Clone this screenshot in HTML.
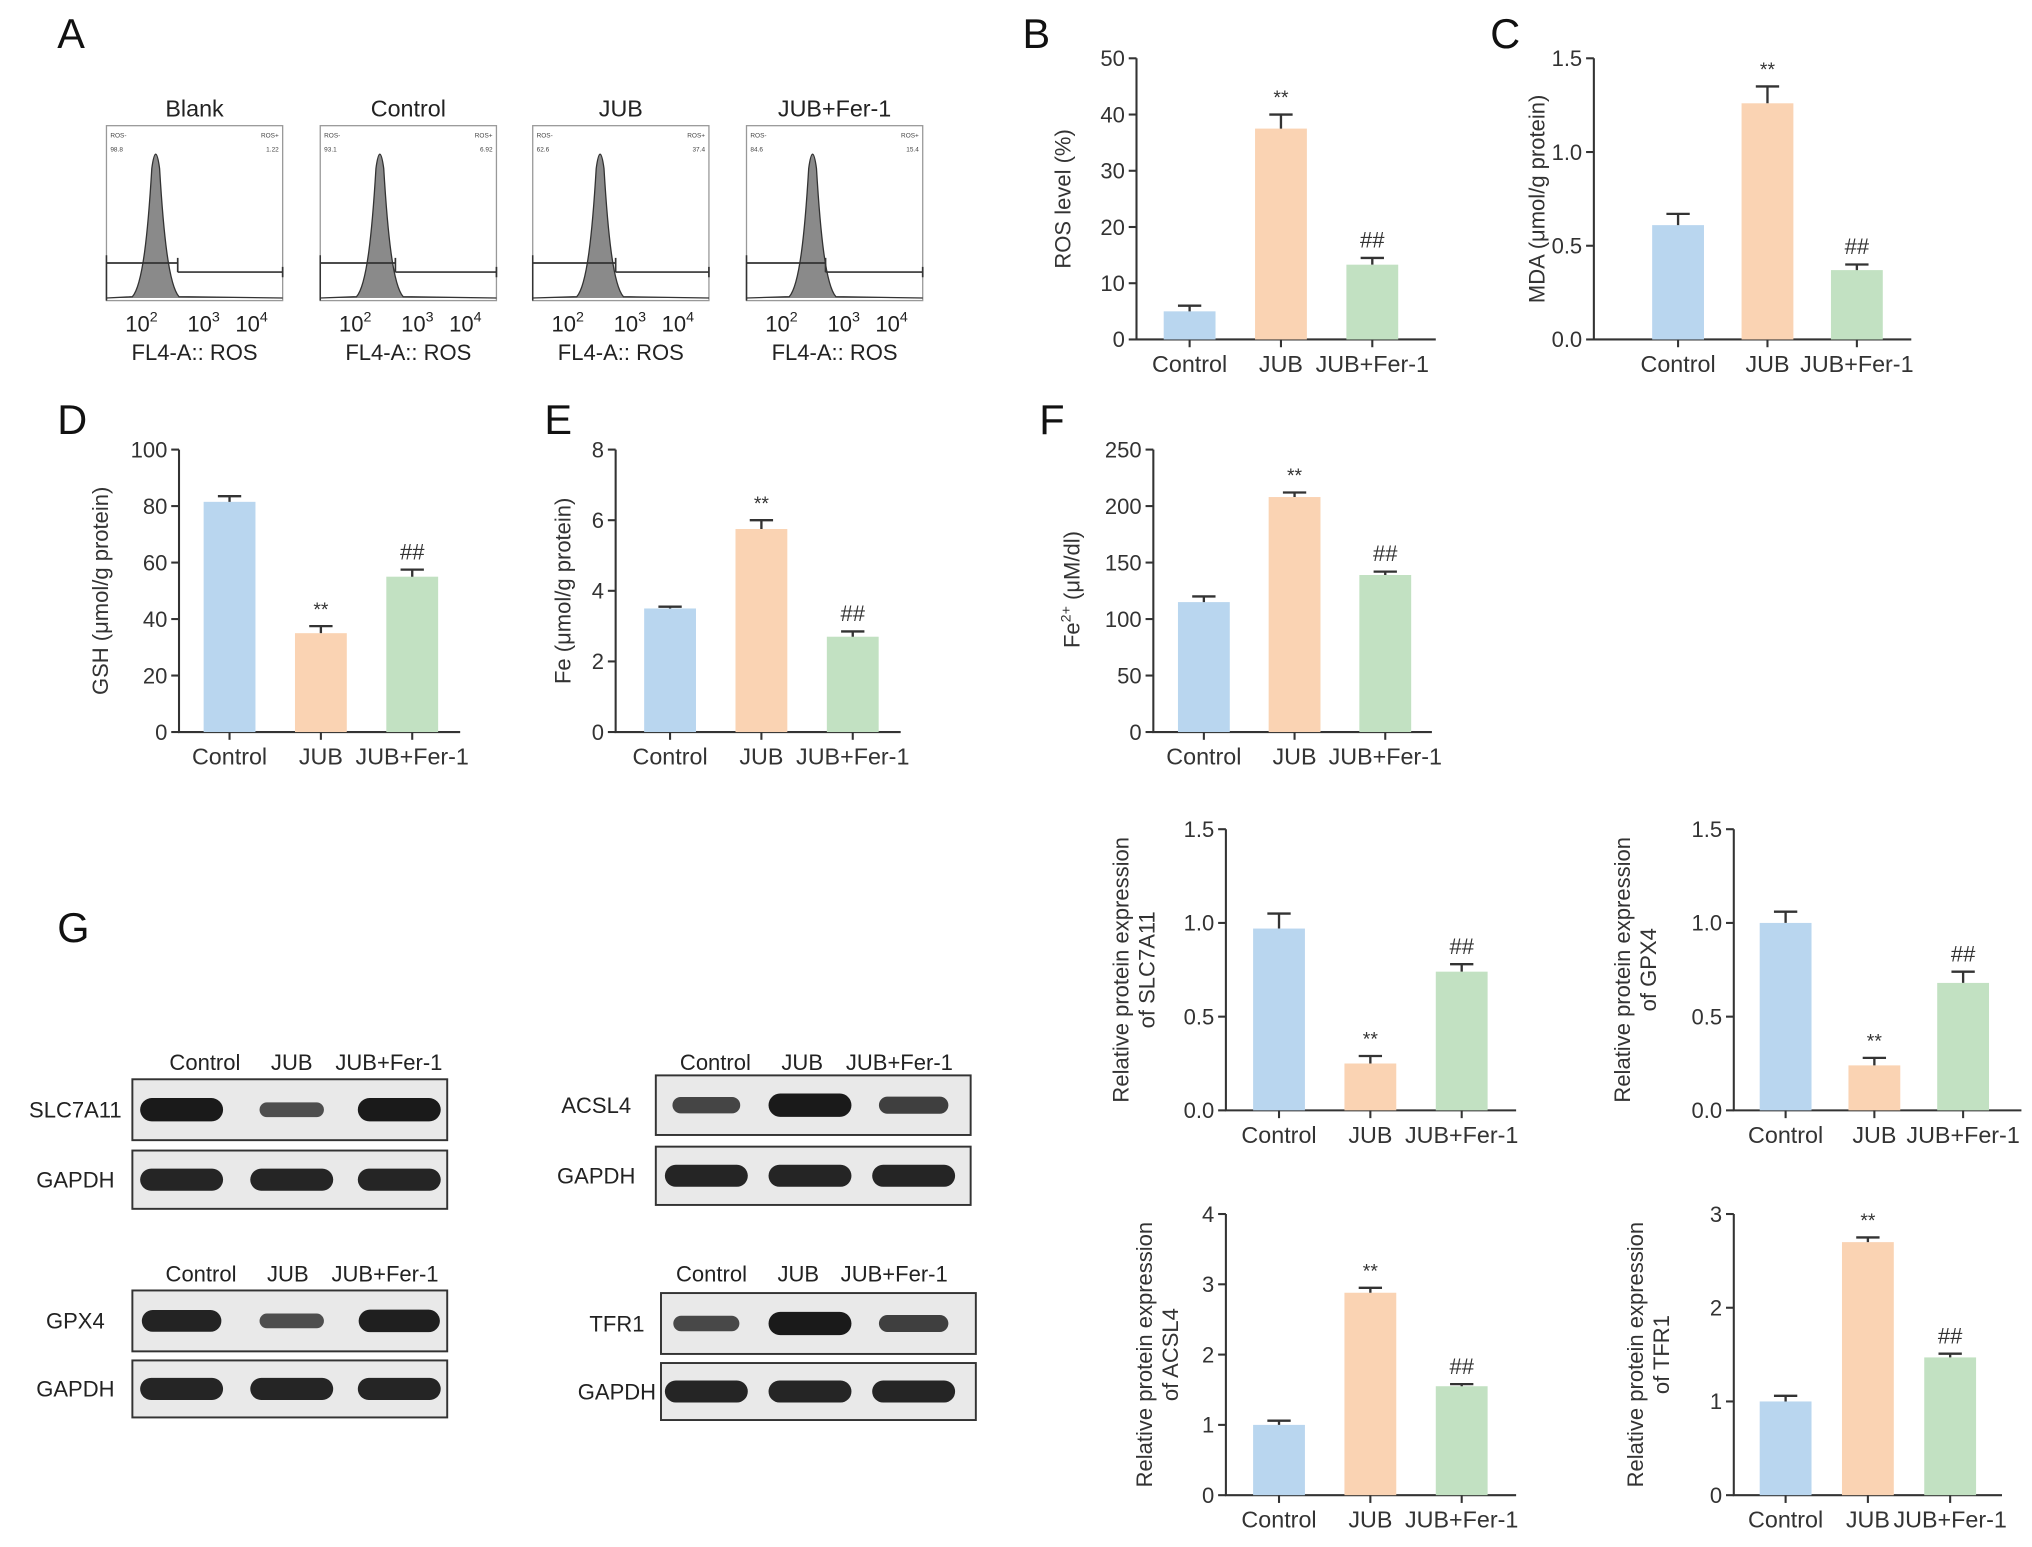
<!DOCTYPE html>
<html><head><meta charset="utf-8"><style>
html,body{margin:0;padding:0;background:#fff;}
svg{display:block;font-family:"Liberation Sans",Arial,sans-serif;}
</style></head><body>
<svg id="fig" width="2032" height="1547" viewBox="0 0 1568 1194" xmlns="http://www.w3.org/2000/svg">
<g id="root"></g>
</svg>
<script>
// ---- data ----
const categories = ["Control","JUB","JUB+Fer-1"];
const rosValues = [5, 37.5, 13.3];
const rosErrors = [6, 40, 14.5];
const mdaValues = [0.61, 1.26, 0.37];
const mdaErrors = [0.67, 1.35, 0.40];
const gshValues = [81.5, 35, 55];
const gshErrors = [83.5, 37.5, 57.5];
const feValues = [3.5, 5.75, 2.7];
const feErrors = [3.55, 6.0, 2.85];
const fe2Values = [115, 208, 139];
const fe2Errors = [120, 212, 142];
const slcValues = [0.97, 0.25, 0.74];
const slcErrors = [1.05, 0.29, 0.78];
const gpxValues = [1.0, 0.24, 0.68];
const gpxErrors = [1.06, 0.28, 0.74];
const acslValues = [1.0, 2.88, 1.55];
const acslErrors = [1.06, 2.95, 1.58];
const tfrValues = [1.0, 2.7, 1.47];
const tfrErrors = [1.06, 2.75, 1.51];
const ticks15 = [0, 0.5, 1.0, 1.5];
const tickLabels15 = ["0.0","0.5","1.0","1.5"];
const ticks50 = [0,10,20,30,40,50];
const ticks100 = [0,20,40,60,80,100];
const ticks8 = [0,2,4,6,8];
const ticks250 = [0,50,100,150,200,250];
const ticks4 = [0,1,2,3,4];
const ticks3 = [0,1,2,3];
const marks = ["", "**", "##"];
const histTitles = ["Blank","Control","JUB","JUB+Fer-1"];
const histNeg = ["98.8","93.1","62.6","84.6"];
const histPos = ["1.22","6.92","37.4","15.4"];
const histPeaks = [120, 293, 463, 627];
const histGates = [137, 305, 475, 637];

const NS = "http://www.w3.org/2000/svg";
const root = document.getElementById('root');
const colors = ["#b9d6ef","#fad3b3","#c2e1c2"];
function el(tag, attrs, parent, text){
  const e = document.createElementNS(NS, tag);
  for (const k in attrs) e.setAttribute(k, attrs[k]);
  if (text !== undefined) e.textContent = text;
  (parent||root).appendChild(e);
  return e;
}

function barChart(name, cfg){
  const g = el('g', {});
  
  
  const yScale = v => cfg.yBot - (v - cfg.min)/(cfg.max - cfg.min)*(cfg.yBot - cfg.yTop);
  const xScale = i => cfg.ax + cfg.off + i*cfg.step;
  const axis = el('path', {d:`M${cfg.ax} ${cfg.yTop}V${cfg.yBot}H${cfg.axEnd}`, stroke:'#333', 'stroke-width':1.6, fill:'none'}, g);
  
  
  cfg.ticks.forEach((t, i) => {
    const y = yScale(t);
    el('line', {x1:cfg.ax-6, x2:cfg.ax, y1:y, y2:y, stroke:'#333','stroke-width':1.6}, g);
    const tl = el('text', {x:cfg.ax-9, y:y+6, 'text-anchor':'end', 'font-size':17, fill:'#333'}, g, cfg.tickLabels ? cfg.tickLabels[i] : String(t));
    
    
  });
  cfg.values.forEach((v, i) => {
    const cx = xScale(i);
    const bar = el('rect', {x:cx-20, y:yScale(v), width:40, height:cfg.yBot - yScale(v), fill:colors[i]}, g);
    
    
    const ey = yScale(cfg.errors[i]);
    el('path', {d:`M${cx} ${yScale(v)}V${ey}M${cx-9} ${ey}H${cx+9}`, stroke:'#333','stroke-width':1.8, fill:'none'}, g);
    el('line', {x1:cx, x2:cx, y1:cfg.yBot, y2:cfg.yBot+6, stroke:'#333','stroke-width':1.6}, g);
    const cl = el('text', {x:cx, y:cfg.yBot+25, 'text-anchor':'middle','font-size':18, fill:'#333'}, g, categories[i]);
    
    
    if (marks[i]) {
      const m = el('text', {x:cx, y:ey-8, 'text-anchor':'middle','font-size':marks[i]=="**"?15:17, fill:'#333'}, g, marks[i]);
      
      
    }
  });
  const cy = cfg.labelY || (cfg.yTop + cfg.yBot)/2;
  cfg.label.forEach((ln, k) => {
    const t = el('text', {x:cfg.lx + k*20, y:cy, 'text-anchor':'middle','font-size':17, fill:'#333', transform:`rotate(-90 ${cfg.lx + k*20} ${cy})`}, g);
    if (typeof ln === 'string') t.textContent = ln;
    else { ln.forEach(p => { el('tspan', p.sup ? {'font-size':11, dy:-7} : (p.down ? {dy:7} : {}), t, p.t); }); }
    
    
  });
}

function panelLetter(ch, x, y){
  const t = el('text', {x:x, y:y, 'font-size':32, fill:'#111'}, root, ch);
  
  
}
panelLetter('A', 44, 37); panelLetter('B', 789, 37); panelLetter('C', 1150, 37);
panelLetter('D', 44, 335); panelLetter('E', 420, 335); panelLetter('F', 802, 335);
panelLetter('G', 44, 727);

// ---- A: flow histograms ----
const histX = [82, 247, 411, 576];
histX.forEach((bx, i) => {
  const g = el('g', {});
  
  
  el('text', {x:bx+68, y:90, 'text-anchor':'middle','font-size':18, fill:'#222'}, g, histTitles[i]);
  el('rect', {x:bx, y:97, width:136, height:135, fill:'none', stroke:'#999','stroke-width':1}, g);
  el('text', {x:bx+3, y:106, 'font-size':5, fill:'#444'}, g, 'ROS-');
  el('text', {x:bx+3, y:117, 'font-size':5, fill:'#444'}, g, histNeg[i]);
  el('text', {x:bx+133, y:106, 'text-anchor':'end','font-size':5, fill:'#444'}, g, 'ROS+');
  el('text', {x:bx+133, y:117, 'text-anchor':'end','font-size':5, fill:'#444'}, g, histPos[i]);
  const p = histPeaks[i];
  const d = `M${bx} 230 L${p-18} 229 C${p-10} 220 ${p-6} 180 ${p-3} 130 Q${p} 108 ${p+3} 130 C${p+6} 180 ${p+10} 220 ${p+18} 229 L${bx+136} 230`;
  el('path', {d:d, fill:'#8a8a8a', stroke:'#333','stroke-width':1}, g);
  const gx = histGates[i];
  el('path', {d:`M${bx} 203H${gx}V210M${gx} 199V203M${gx} 210H${bx+136}M${bx+136} 206V214`, stroke:'#333','stroke-width':1.3, fill:'none'}, g);
  el('path', {d:`M${bx} 232V197`, stroke:'#333','stroke-width':1.2}, g);
  const tx = [bx+27, bx+75, bx+112];
  ["2","3","4"].forEach((e, k) => {
    const t = el('text', {x:tx[k], y:256, 'text-anchor':'middle','font-size':17, fill:'#222'}, g, '10');
    el('tspan', {'font-size':11, dy:-8}, t, e);
  });
  el('text', {x:bx+68, y:278, 'text-anchor':'middle','font-size':17, fill:'#222'}, g, 'FL4-A:: ROS');
});

// ---- bar charts ----
barChart('chart-b-ros', {ax:877, axEnd:1108, yTop:45, yBot:262, min:0, max:50, ticks:ticks50, values:rosValues, errors:rosErrors, off:41, step:70.5, label:["ROS level (%)"], lx:826});
barChart('chart-c-mda', {ax:1230, axEnd:1475, yTop:45, yBot:262, min:0, max:1.5, ticks:ticks15, tickLabels:tickLabels15, values:mdaValues, errors:mdaErrors, off:65, step:69, label:["MDA (μmol/g protein)"], lx:1192});
barChart('chart-d-gsh', {ax:138, axEnd:355, yTop:347, yBot:565, min:0, max:100, ticks:ticks100, values:gshValues, errors:gshErrors, off:39, step:70.5, label:["GSH (μmol/g protein)"], lx:83});
barChart('chart-e-fe', {ax:475, axEnd:695, yTop:347, yBot:565, min:0, max:8, ticks:ticks8, values:feValues, errors:feErrors, off:42, step:70.5, label:["Fe (μmol/g protein)"], lx:440});
barChart('chart-f-fe2', {ax:890, axEnd:1105, yTop:347, yBot:565, min:0, max:250, ticks:ticks250, values:fe2Values, errors:fe2Errors, off:39, step:70, label:[[{t:'Fe'},{t:'2+',sup:true},{t:' (μM/dl)',down:true}]], lx:833, labelY:455});
barChart('chart-slc7a11', {ax:946, axEnd:1170, yTop:640, yBot:857, min:0, max:1.5, ticks:ticks15, tickLabels:tickLabels15, values:slcValues, errors:slcErrors, off:41, step:70.5, label:["Relative protein expression","of SLC7A11"], lx:871});
barChart('chart-gpx4', {ax:1338, axEnd:1560, yTop:640, yBot:857, min:0, max:1.5, ticks:ticks15, tickLabels:tickLabels15, values:gpxValues, errors:gpxErrors, off:40, step:68.5, label:["Relative protein expression","of GPX4"], lx:1258});
barChart('chart-acsl4', {ax:946, axEnd:1170, yTop:937, yBot:1154, min:0, max:4, ticks:ticks4, values:acslValues, errors:acslErrors, off:41, step:70.5, label:["Relative protein expression","of ACSL4"], lx:889});
barChart('chart-tfr1', {ax:1338, axEnd:1545, yTop:937, yBot:1154, min:0, max:3, ticks:ticks3, values:tfrValues, errors:tfrErrors, off:40, step:63.5, label:["Relative protein expression","of TFR1"], lx:1268});

// ---- G: western blots ----
const blots = [
  {name:'SLC7A11', x:102, hy:826, lx:58, hx:[158,225,300], boxes:[[833,47],[888,45]], bands:[[140,1],[225,0.45],[308,1]]},
  {name:'GPX4', x:102, hy:989, lx:58, hx:[155,222,297], boxes:[[996,47],[1050,44]], bands:[[140,0.9],[225,0.45],[308,0.95]]},
  {name:'ACSL4', x:506, hy:826, lx:460, hx:[552,619,694], boxes:[[830,46],[885,45]], bands:[[545,0.55],[625,1],[705,0.6]]},
  {name:'TFR1', x:510, hy:989, lx:476, hx:[549,616,690], boxes:[[998,47],[1052,44]], bands:[[545,0.5],[625,1],[705,0.6]]}
];
blots.forEach(b => {
  const g = el('g', {});
  
  
  categories.forEach((c, i) => el('text', {x:b.hx[i], y:b.hy, 'text-anchor':'middle','font-size':17, fill:'#222'}, g, c));
  b.boxes.forEach((bx, k) => {
    el('rect', {x:b.x, y:bx[0], width:243, height:bx[1], fill:'#e9e9e9', stroke:'#333','stroke-width':1.5}, g);
    el('text', {x:b.lx, y:bx[0]+bx[1]/2+6, 'text-anchor':'middle','font-size':17, fill:'#222'}, g, k===0 ? b.name : 'GAPDH');
    b.bands.forEach(bd => {
      const h = k===0 ? 6 + 12*bd[1] : 17;
      const w = k===0 ? 38 + 26*bd[1] : 64;
      el('rect', {x:bd[0]-w/2, y:bx[0]+bx[1]/2-h/2, width:w, height:h, rx:h/2, fill:'#1a1a1a', opacity:k===0?0.55+0.45*bd[1]:0.95}, g);
    });
  });
});
</script>
</body></html>
